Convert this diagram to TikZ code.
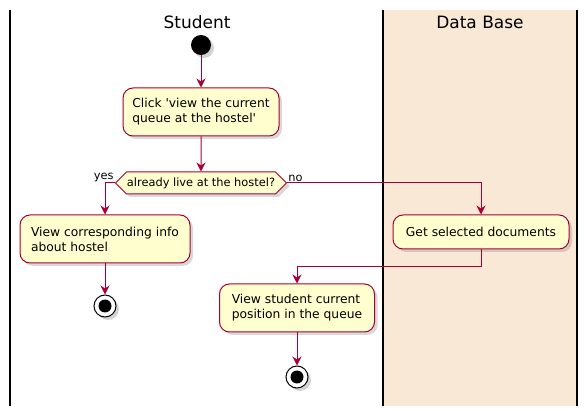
\documentclass[tikz,border=0pt]{standalone}
\usepackage{fontspec}
\setmainfont{DejaVu Sans}
\usepackage{tikz}
\usetikzlibrary{
	arrows.meta,
	positioning,
	shapes.symbols,
	shadows
}
\definecolor{main}{RGB}{168,0,54}
\definecolor{actfill}{RGB}{254,254,206}
\definecolor{lanefill}{RGB}{249,232,213}
\tikzset{
  % arrow
	cstflow/.style    ={-{Stealth[length=9pt,width=9pt,inset=3pt]}, main, line width=1pt},
  % lane
	cstlane/.style    ={line width=1.6pt, black},
	csttitle/.style   ={font=\fontsize{17}{19}\selectfont},
  % dot
	cststart/.style   ={circle, fill=black, minimum size=20pt, inner sep=0pt,
		drop shadow={shadow xshift=3pt, shadow yshift=-3pt, opacity=0.35}},
	cstend/.style     ={circle, fill=white, draw=black, line width=1pt, minimum size=22pt, inner sep=0pt,
		drop shadow={shadow xshift=3pt, shadow yshift=-3pt, opacity=0.35},
		path picture={\fill[black] (path picture bounding box.center) circle (6.5pt);}},
  % node
	cstact/.style     ={fill=actfill, draw=main, line width=1pt, rounded corners=10pt,
		align=left, font=\fontsize{12.3}{15}\selectfont, inner sep=0pt,
		drop shadow={shadow xshift=3pt, shadow yshift=-3pt, opacity=0.3}},
	cstif/.style      ={signal, signal to=west and east, signal pointer angle=90,
		fill=actfill, draw=main, line width=1pt, font=\fontsize{11.4}{13}\selectfont,
		minimum width=171pt, minimum height=22pt, inner sep=0pt,
		drop shadow={shadow xshift=3pt, shadow yshift=-3pt, opacity=0.3}},
	cstlabel/.style   ={font=\fontsize{11.4}{13}\selectfont, inner sep=1pt}
}
\begin{document}
\begin{tikzpicture}[x=1pt,y=-1pt]
	\useasboundingbox (0,0) rectangle (587,414);
	% swimlanes
	\fill[lanefill] (383,10) rectangle (577,406);
	\draw[cstlane] (10,10) -- (10,406);
	\draw[cstlane] (383,10) -- (383,406);
	\draw[cstlane] (577,10) -- (577,406);
	\node[csttitle] (student) at (197,22) {Student};
	\node[csttitle] (database) at (480,22) {Data Base};
	% activities
	\node[cststart] (start) at (201,45) {};
	\node[cstact, minimum width=156pt, minimum height=48pt] (click) at (201,112)
		{Click \textquotesingle view the current\\queue at the hostel\textquotesingle};
	\node[cstif] (live) at (201,183) {already live at the hostel?};
	\node[cstact, minimum width=170pt, minimum height=48pt] (info) at (105,239)
		{View corresponding info\\about hostel};
	\node[cstend] (end1) at (105,306) {};
	\node[cstact, minimum width=176pt, minimum height=34pt] (getdoc) at (481,232)
		{Get selected documents};
	\coordinate (merge) at (481,267);
	\node[cstact, minimum width=155pt, minimum height=48pt] (viewpos) at (297,308)
		{View student current\\position in the queue};
	\node[cstend] (end2) at (297,377) {};
	% flows
	\draw[cstflow] (start) -- (click);
	\draw[cstflow] (click) -- (live);
	\draw[cstflow] (live.west) -| (info.north);
	\node[cstlabel, above left] at (live.west) {yes};
	\draw[cstflow] (live.east) -| (getdoc.north);
	\node[cstlabel, above right] at (live.east) {no};
	\draw[cstflow] (info) -- (end1);
	\draw[cstflow] (getdoc.south) -- (merge) -| (viewpos.north);
	\draw[cstflow] (viewpos) -- (end2);
\end{tikzpicture}
\end{document}
